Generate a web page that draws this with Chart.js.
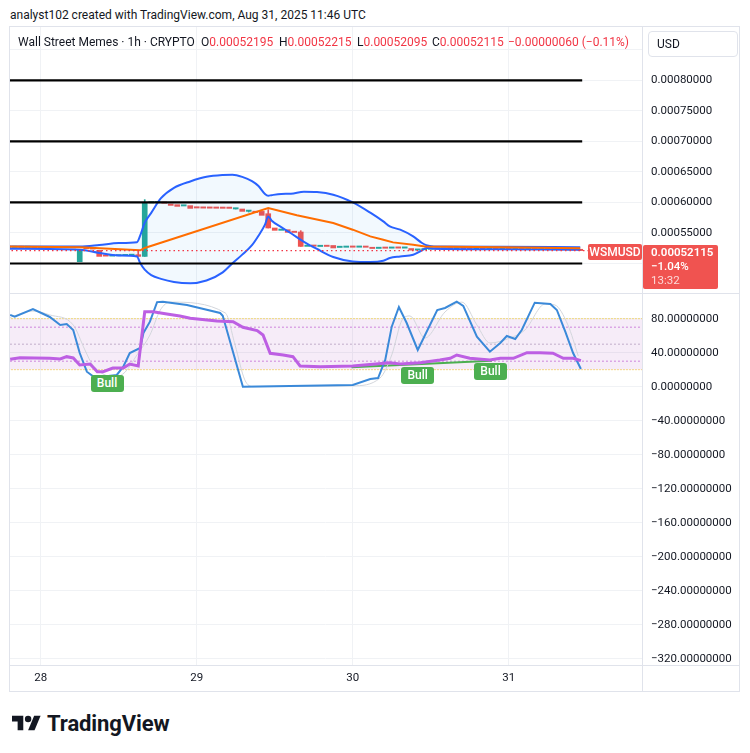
<!DOCTYPE html>
<html><head><meta charset="utf-8">
<script src="https://cdn.jsdelivr.net/npm/chart.js@4.4.1/dist/chart.umd.min.js"></script>
<style>
html,body{margin:0;padding:0;background:#fff;width:750px;height:753px;overflow:hidden;font-family:Roboto,'Noto Sans',sans-serif;color:#131722;}
.a{position:absolute;white-space:nowrap;}
canvas{position:absolute;}
#c1{left:9px;top:26px;}
#c2{left:9px;top:293px;}
.ln{position:absolute;background:#e0e3eb;}
.red{color:#f23645;}
#usd{left:648px;top:31px;width:90px;height:26px;box-sizing:border-box;border:1px solid #e0e3eb;border-radius:4px;background:#fff;font-size:12px;line-height:24px;padding-left:8px;}
#ptag{width:54px;height:16px;background:#f05350;color:#fff;font-size:12px;font-weight:500;line-height:16px;text-align:center;border-radius:2px;}
#pbox{width:75px;height:44px;background:#f05350;color:#fff;font-size:11.5px;line-height:14px;padding-left:8px;box-sizing:border-box;border-radius:2px;}
.bull{width:33px;height:17px;background:#4caf50;color:#fff;font-size:12px;font-weight:500;line-height:17px;text-align:center;border-radius:3px;}
</style></head><body>
<div class="a" style="left:10px;top:8px;font-size:12px;line-height:15px;">analyst102 created with TradingView.com, Aug 31, 2025 11:46 UTC</div>
<canvas id="c1" width="731" height="267"></canvas>
<canvas id="c2" width="731" height="399"></canvas>
<div class="ln" style="left:9px;top:26px;width:731px;height:1px"></div>
<div class="ln" style="left:9px;top:26px;width:1px;height:666px"></div>
<div class="ln" style="left:739px;top:26px;width:1px;height:666px"></div>
<div class="ln" style="left:9px;top:691px;width:731px;height:1px"></div>
<div class="ln" style="left:642px;top:26px;width:1px;height:666px"></div>
<div class="ln" style="left:9px;top:293px;width:731px;height:1px"></div>
<div class="ln" style="left:9px;top:665px;width:731px;height:1px"></div>
<div class="a" style="left:18px;top:35px;font-size:12px;line-height:15px;">Wall Street Memes · 1h · CRYPTO</div>
<div class="a" style="left:201px;top:35px;font-size:12px;line-height:15px;">O<span class="red">0.00052195</span></div>
<div class="a" style="left:279px;top:35px;font-size:12px;line-height:15px;">H<span class="red">0.00052215</span></div>
<div class="a" style="left:357px;top:35px;font-size:12px;line-height:15px;">L<span class="red">0.00052095</span></div>
<div class="a" style="left:432px;top:35px;font-size:12px;line-height:15px;">C<span class="red">0.00052115</span></div>
<div class="a red" style="left:508px;top:35px;font-size:12px;line-height:15px;">−0.00000060 (−0.11%)</div>
<div class="a" id="usd">USD</div>
<div class="a" id="ptag">WSMUSD</div>
<div class="a" id="pbox"><div style="font-weight:600">0.00052115</div><div style="font-weight:500">−1.04%</div><div style="opacity:.78">13:32</div></div>
<div class="a bull" id="b0">Bull</div>
<div class="a bull" id="b1">Bull</div>
<div class="a bull" id="b2">Bull</div>
<div class="a" style="left:12px;top:711px;height:24px;display:flex;align-items:center;">
<svg width="29" height="18" viewBox="0 3 36 20"><path d="M14 22H7V11H0V4h14v18z" fill="#131722"/><circle cx="20" cy="8" r="4" fill="#131722"/><path d="M28 22h-8l7.5-18h8L28 22z" fill="#131722"/></svg>
<span style="margin-left:6px;font-size:22px;font-weight:700;letter-spacing:-0.1px;">TradingView</span></div>
<script>
// ---------- DATA ----------
const startHour = -5; // first candle: Aug 27 19:00 UTC (hours from Aug 28 00:00)
const opens = [0.0005268,0.0005262,0.0005268,0.0005262,0.0005265,0.000526,0.0005264,0.0005259,0.0005263,0.0005258,0.0005261,
0.000503,0.0005245,0.000524,0.0005215,0.0005122,0.000512,0.0005125,0.0005128,0.0005132,0.0005144,
0.0005116,0.0005992,0.0005994,0.0005996,0.0005975,0.0005964,0.0005942,0.0005948,0.0005912,0.000591,
0.0005909,0.0005908,0.0005907,0.0005906,0.0005893,0.0005893,0.0005854,0.000584,0.0005854,0.0005816,
0.0005582,0.0005543,0.0005554,0.0005511,0.0005516,0.000528,0.0005286,0.0005278,0.0005281,0.0005295,
0.0005262,0.0005265,0.0005268,0.0005266,0.0005268,0.0005266,0.0005246,0.0005252,0.000525,0.0005254,
0.0005251,0.0005245,0.0005218,0.0005224,0.0005232,0.0005238,0.0005233,0.000524,0.0005236,0.0005243,
0.0005237,0.000523,0.0005236,0.0005229,0.0005235,0.0005228,0.0005233,0.0005226,0.0005231,0.0005225,
0.000523,0.0005224,0.0005229,0.0005223,0.0005227,0.0005221,0.0005225,0.00052195];
const closes = [0.0005262,0.0005268,0.0005262,0.0005265,0.000526,0.0005264,0.0005259,0.0005263,0.0005258,0.0005261,0.0005256,
0.0005226,0.000524,0.0005236,0.0005116,0.000512,0.0005125,0.0005128,0.0005132,0.0005136,0.0005116,
0.0005992,0.0005994,0.0005996,0.0005988,0.0005952,0.0005936,0.0005948,0.0005903,0.0005909,0.0005907,
0.0005906,0.0005905,0.0005904,0.0005903,0.0005896,0.0005854,0.0005855,0.0005836,0.0005789,0.0005582,
0.0005543,0.0005545,0.000551,0.0005508,0.000528,0.0005284,0.0005282,0.0005281,0.0005279,0.0005254,
0.0005265,0.0005268,0.0005266,0.0005269,0.0005265,0.0005245,0.0005249,0.0005249,0.0005253,0.0005251,
0.0005254,0.0005218,0.0005224,0.0005232,0.0005238,0.0005233,0.000524,0.0005236,0.0005243,0.0005237,
0.000523,0.0005236,0.0005229,0.0005235,0.0005228,0.0005233,0.0005226,0.0005231,0.0005225,0.000523,
0.0005224,0.0005229,0.0005223,0.0005227,0.0005221,0.0005225,0.00052175,0.00052115];
const wickHours = [15,16,30,32,35,40,83];
const wickHigh  = [0.0005198,0.0006046,0.0005905,0.0005866,0.0005882,0.0005538,0.00052215];
const wickLow   = [0.0005116,0.0005116,0.0005893,0.0005843,0.0005582,0.000528,0.00052095];

const bbHours = [-5,6,9,12,14.8,15.3,16,17,18.5,20.5,23,25.5,28,29.5,31,32.5,33.5,34.5,35,35.5,37,38.5,40.5,42.5,45,48,50.7,52.7,53.7,55.3,57.3,58.6,59.3,60.5,70.7,83];
const bbUpper = [0.000528,0.000528,0.0005303,0.0005335,0.0005349,0.0005456,0.0005669,0.000583,0.000607,0.000624,0.0006345,0.000642,0.000645,0.0006455,0.000642,0.000635,0.000627,0.000614,0.0006111,0.000612,0.000614,0.0006144,0.0006175,0.000617,0.0006128,0.0006002,0.0005833,0.000569,0.0005608,0.0005554,0.0005444,0.000534,0.00053,0.000528,0.0005275,0.0005267];
const bbLower = [0.0005243,0.0005226,0.0005172,0.000513,0.0005116,0.0005008,0.0004898,0.000481,0.0004748,0.0004697,0.0004677,0.0004722,0.0004855,0.0005005,0.0005145,0.00053,0.0005455,0.0005636,0.0005772,0.0005705,0.0005595,0.0005495,0.0005355,0.0005238,0.0005107,0.0005034,0.0005025,0.0005046,0.000509,0.0005116,0.0005144,0.000521,0.0005254,0.0005243,0.0005234,0.0005226];
const maHours = [-5,6,15.3,16,35,39.4,45,48,50.7,52.7,54.2,57.3,59.1,70.7,83];
const maVals  = [0.000528,0.0005264,0.0005215,0.0005254,0.000591,0.0005792,0.0005664,0.0005554,0.0005444,0.000539,0.0005346,0.0005308,0.000528,0.0005267,0.0005251];
const levels = [0.0008,0.0007,0.0006,0.0005];
const levelSpan = [-5,83.3];

const kHours = [-4.7,-4,-1.2,1.4,3,4,5,6,7.1,8,9.1,11.7,12.7,13.7,15.3,15.8,16.8,17.9,18.8,22.5,27.6,28,31.1,48,50.7,51.9,53,54,55.1,56.3,58,61,62.2,64,65,67.1,69.1,70.7,71.7,73,74,76,78.4,79.4,80.7,81.9,83.1];
const kVals  = [84.4,82.4,91.4,82,72.6,73.8,66.7,39.6,17.6,12.6,11.4,13.8,23.5,39.6,45.5,63.2,76.5,99.5,100,96.1,86.7,83.5,0,2,9,10.2,31.4,70.6,93.8,74.9,43.2,90.2,92.6,100,95,58.8,41.2,51.4,59.6,56.1,66.7,98.8,97.3,90.2,64.7,39.6,20.8];
const dHours = [-5,-1.2,1.4,5,6.8,8,11.4,13,14.8,16.8,18.4,19.9,28.4,29.9,31.4,32.7,48,52.2,54,55.6,56.8,59.1,62.2,64.8,67.1,69.1,72.2,74.5,77.6,79.1,81.1,82.7];
const dVals  = [80.8,89,84.4,72.6,43.2,25.5,11.4,17.3,37.3,60.8,90.2,99.5,86.7,49,7.9,0,1,10.2,37.3,78.5,83.2,57.3,87.9,99.5,72.6,51.4,57.3,66.7,97.3,96.1,72.6,36.1];
const rsiHours = [-4.7,-3.2,1.4,3,4,5,6,7.6,8.7,9.6,11.1,12.7,13.7,15,16,17.3,19.4,21.4,23,27.1,29.6,31.1,33.3,34.2,35.3,37.3,38.8,39.9,43,48,53.7,55.3,58.4,61.4,63,64,66,69.1,70.7,72.7,74.8,76.8,78.8,80.4,81.9,83.1];
const rsiVals  = [32.2,34.1,33.4,32.6,35.3,33.8,25.5,26.7,17.6,17.6,22,22,26.7,24.4,88.2,88.2,85.5,83.2,80.5,77.3,76.5,69.9,65.9,60.8,39.3,37.3,35.3,24.4,23.5,24.4,28.2,26.7,28.2,31.4,33.4,37.3,33.4,31.4,33.4,33.4,40,40,39.3,33.4,33.4,30.6];
const divHours = [47.8,69.4];
const divVals  = [22.8,30.6];
const bullHours = [10.2,58.0,69.2];
const bullVals  = [13.8,23.2,27.9];
const stochLevels = [80,20];
const rsiLevels = [70,50,30];

const dayTickHours = [0,24,48,72];
const dayLabels = ['28','29','30','31'];
const priceTicks = [0.0005,0.00055,0.0006,0.00065,0.0007,0.00075,0.0008,0.00085];
const priceTickLabels = ['','0.00055000','0.00060000','0.00065000','0.00070000','0.00075000','0.00080000',''];
const oscTicks = [-320,-280,-240,-200,-160,-120,-80,-40,0,40,80];
const oscTickLabels = ['−320.00000000','−280.00000000','−240.00000000','−200.00000000','−160.00000000','−120.00000000','−80.00000000','−40.00000000','0.00000000','40.00000000','80.00000000'];

// ---------- CHART ----------
const GRID = '#f0f2f5', GREEN = '#26a69a', RED = '#ef5350';
const VIEW = {min:-4.88, max:92.5};
Chart.defaults.font.family = "Roboto, 'Noto Sans', sans-serif";
Chart.defaults.font.size = 11.5;
Chart.defaults.color = '#131722';
const lastClose = closes[closes.length-1];
const pts = (xs, ys) => xs.map((x,i)=>({x, y:ys[i]}));
const hline = (v) => [{x:levelSpan[0], y:v},{x:levelSpan[1], y:v}];
const fullLine = (v) => [{x:VIEW.min-1, y:v},{x:VIEW.max+1, y:v}];
const bodyData = opens.map((o,i)=>({x:startHour+i, y:[o, closes[i]]}));
const bodyColors = opens.map((o,i)=> closes[i] >= o ? GREEN : RED);
const wickData = wickHours.map((h,i)=>({x:h, y:[wickLow[i], wickHigh[i]]}));
const wickColors = wickHours.map(h => bodyColors[h-startHour]);
const noPad = s => { s.paddingTop=0; s.paddingBottom=0; s.paddingLeft=0; s.paddingRight=0; };
const L = (data, extra) => Object.assign({type:'line', data, pointRadius:0, borderWidth:2, tension:0, fill:false}, extra);

const xScale = (showLabels) => ({
  type:'linear', min:VIEW.min, max:VIEW.max, offset:false, bounds:'ticks',
  afterBuildTicks: s => { s.ticks = dayTickHours.map(v=>({value:v})); },
  ticks:{display:showLabels, padding:6, maxRotation:0, autoSkip:false, callback:(v,i)=>dayLabels[i]},
  grid:{color:GRID, drawTicks:false, offset:false}, border:{display:false},
  afterFit: s => { s.height = showLabels ? 27 : 0; noPad(s); }
});

const c1Left = 9, c1Top = 26, c2Left = 9, c2Top = 293;
const overlay1 = {id:'overlay1', afterRender(chart){
  const y = chart.scales.y.getPixelForValue(lastClose), ca = chart.chartArea;
  const pb = document.getElementById('pbox'); pb.style.left = (c1Left+ca.right+1)+'px'; pb.style.top = (c1Top+y-6)+'px';
  const pt = document.getElementById('ptag'); pt.style.left = (c1Left+ca.right-54)+'px'; pt.style.top = (c1Top+y-6.5)+'px';
}};
const overlay2 = {id:'overlay2', afterRender(chart){
  bullHours.forEach((h,i)=>{
    const el = document.getElementById('b'+i);
    el.style.left = (c2Left+chart.scales.x.getPixelForValue(h)-16.5)+'px';
    el.style.top = (c2Top+chart.scales.y.getPixelForValue(bullVals[i]))+'px';
  });
}};

new Chart(document.getElementById('c1'), {
  type:'line',
  data:{datasets:[
    {type:'bar', data:wickData, backgroundColor:wickColors, barThickness:1, grouped:false, order:8},
    {type:'bar', data:bodyData, backgroundColor:bodyColors, barThickness:5, minBarLength:1.3, grouped:false, order:7},
    L(pts(bbHours,bbUpper), {borderColor:'#2962ff', fill:'+1', backgroundColor:'rgba(33,150,243,0.06)', cubicInterpolationMode:'monotone', order:6}),
    L(pts(bbHours,bbLower), {borderColor:'#2962ff', cubicInterpolationMode:'monotone', order:5}),
    L(pts(maHours,maVals), {borderColor:'#ff6d00', order:4}),
    L(fullLine(lastClose), {borderColor:'#f23645', borderWidth:1.3, borderDash:[1.5,3], order:3}),
    ...levels.map(v => L(hline(v), {borderColor:'#000000', borderWidth:2.2, order:1}))
  ]},
  options:{
    responsive:false, devicePixelRatio:1, animation:false, events:[],
    layout:{padding:0},
    plugins:{legend:{display:false}, tooltip:{enabled:false}},
    scales:{
      x: xScale(false),
      y:{position:'right', min:0.0004516, max:0.0008893,
        afterBuildTicks: s => { s.ticks = priceTicks.map(v=>({value:v})); },
        ticks:{padding:9, callback:(v,i)=>priceTickLabels[i]},
        grid:{color:GRID, drawTicks:false}, border:{display:false},
        afterFit: s => { s.width = 98; noPad(s); }}
    }
  },
  plugins:[overlay1]
});

new Chart(document.getElementById('c2'), {
  type:'line',
  data:{datasets:[
    L(fullLine(stochLevels[0]), {borderColor:'#f2c200', borderWidth:1, borderDash:[1,2], fill:{value:stochLevels[1]}, backgroundColor:'rgba(156,39,176,0.09)', order:9}),
    L(fullLine(stochLevels[1]), {borderColor:'#f2c200', borderWidth:1, borderDash:[1,2], order:9}),
    L(fullLine(rsiLevels[0]), {borderColor:'#a51fc0', borderWidth:1, borderDash:[1,3], order:8}),
    L(fullLine(rsiLevels[1]), {borderColor:'#8e6f9e', borderWidth:1, borderDash:[1,3], order:8}),
    L(fullLine(rsiLevels[2]), {borderColor:'#a51fc0', borderWidth:1, borderDash:[1,3], order:8}),
    L(pts(divHours,divVals), {borderColor:'#4caf50', borderWidth:2, order:5}),
    L(pts(dHours,dVals), {borderColor:'#d3d6dc', borderWidth:1, cubicInterpolationMode:'monotone', order:4}),
    L(pts(kHours,kVals), {borderColor:'#3a89d9', borderWidth:2, order:3}),
    L(pts(rsiHours,rsiVals), {borderColor:'#bd5fe3', borderWidth:3, order:2})
  ]},
  options:{
    responsive:false, devicePixelRatio:1, animation:false, events:[],
    layout:{padding:0},
    plugins:{legend:{display:false}, tooltip:{enabled:false}},
    scales:{
      x: xScale(true),
      y:{position:'right', min:-327.4, max:110.2,
        afterBuildTicks: s => { s.ticks = oscTicks.map(v=>({value:v})); },
        ticks:{padding:9, callback:(v,i)=>oscTickLabels[i]},
        grid:{color:GRID, drawTicks:false}, border:{display:false},
        afterFit: s => { s.width = 98; noPad(s); }}
    }
  },
  plugins:[overlay2]
});
</script>
</body></html>
